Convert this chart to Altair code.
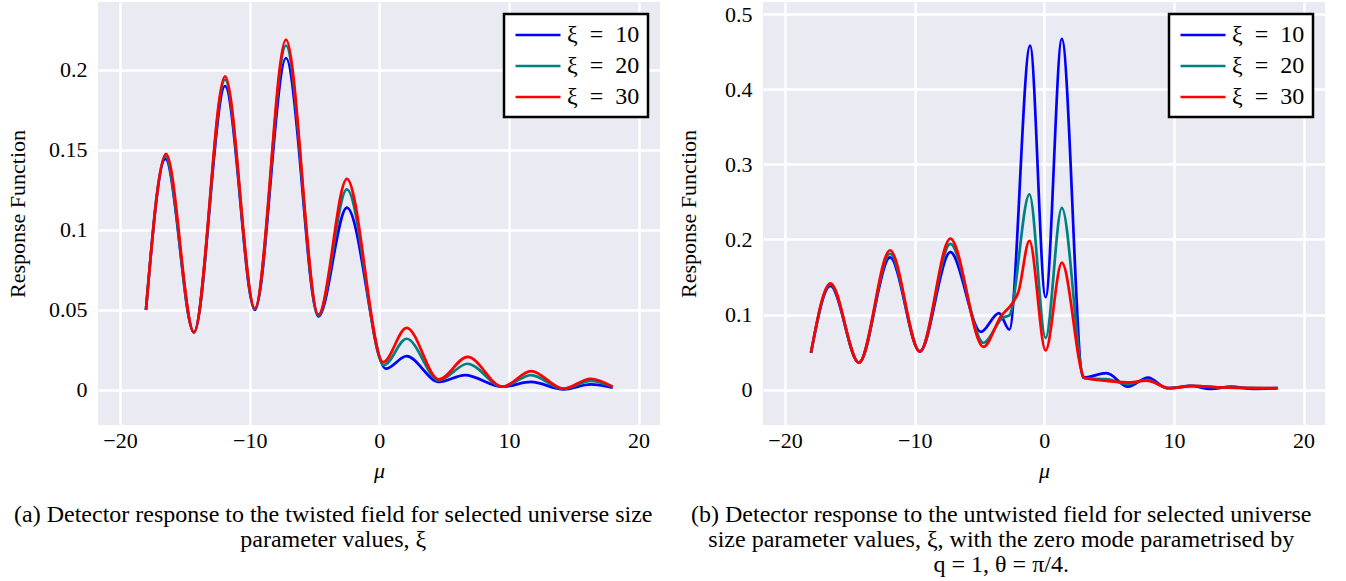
import altair as alt
import pandas as pd

SERIES = ["ξ\u2002=\u200210", "ξ\u2002=\u200220", "ξ\u2002=\u200230"]
COLORS = ["#0000ff", "#008080", "#ff0000"]

# ---- Panel (a): twisted field ----
a_mu_10 = [-18.0, -16.5, -14.3, -11.9, -9.6, -7.2, -4.7, -2.5, 0.5, 2.1, 4.6, 6.6, 9.5, 11.7, 14.2, 16.3, 18.0]
a_r_10 = [0.050, 0.1445, 0.036, 0.190, 0.050, 0.2075, 0.046, 0.114, 0.0133, 0.0211, 0.005, 0.0093, 0.002, 0.005, 0.0004, 0.0035, 0.0015]
a_mu_20 = [-18.0, -16.5, -14.3, -11.9, -9.6, -7.2, -4.7, -2.5, 0.35, 2.1, 4.6, 6.8, 9.5, 11.7, 14.2, 16.3, 18.0]
a_r_20 = [0.050, 0.146, 0.036, 0.194, 0.0505, 0.2153, 0.0465, 0.1254, 0.0155, 0.032, 0.006, 0.0164, 0.002, 0.0093, 0.0006, 0.0056, 0.002]
a_mu_30 = [-18.0, -16.45, -14.3, -11.9, -9.6, -7.2, -4.7, -2.5, 0.3, 2.1, 4.6, 6.8, 9.5, 11.7, 14.2, 16.3, 18.0]
a_r_30 = [0.050, 0.1476, 0.036, 0.196, 0.051, 0.219, 0.047, 0.132, 0.0174, 0.0388, 0.0066, 0.0207, 0.002, 0.0118, 0.0008, 0.007, 0.002]

# ---- Panel (b): untwisted field ----
b_mu_10 = [-18.0, -16.5, -14.3, -11.9, -9.6, -7.25, -4.9, -3.5, -2.7, -1.1, 0.1, 1.35, 3.0, 4.8, 6.45, 8.0, 9.5, 11.3, 12.8, 14.4, 16.2, 18.0]
b_r_10 = [0.049, 0.138, 0.036, 0.176, 0.051, 0.183, 0.077, 0.102, 0.080, 0.458, 0.123, 0.467, 0.016, 0.022, 0.004, 0.016, 0.002, 0.005, 0.001, 0.004, 0.001, 0.002]
b_mu_20 = [-18.0, -16.5, -14.3, -11.9, -9.6, -7.25, -4.7, -3.2, -2.7, -1.15, 0.1, 1.35, 3.1, 4.8, 6.4, 7.9, 9.6, 11.4, 13.5, 18.0]
b_r_20 = [0.049, 0.140, 0.036, 0.181, 0.051, 0.194, 0.0625, 0.096, 0.099, 0.260, 0.069, 0.242, 0.015, 0.014, 0.0075, 0.013, 0.002, 0.005, 0.003, 0.002]
b_mu_30 = [-18.0, -16.5, -14.3, -11.9, -9.6, -7.25, -4.7, -3.3, -2.6, -2.0, -1.15, 0.1, 1.35, 3.1, 4.6, 6.4, 7.9, 9.7, 11.5, 13.5, 18.0]
b_r_30 = [0.049, 0.1416, 0.036, 0.1856, 0.0506, 0.201, 0.057, 0.099, 0.112, 0.130, 0.198, 0.0523, 0.169, 0.016, 0.012, 0.0097, 0.012, 0.002, 0.005, 0.003, 0.002]

X_TICKS = [-20, -10, 0, 10, 20]
A_Y_TICKS = [0, 0.05, 0.1, 0.15, 0.2]
B_Y_TICKS = [0, 0.1, 0.2, 0.3, 0.4, 0.5]

CAPTION_A = ["(a) Detector response to the twisted field for selected universe size",
             "parameter values, ξ"]
CAPTION_B = ["(b) Detector response to the untwisted field for selected universe",
             "size parameter values, ξ, with the zero mode parametrised by",
             "q = 1, θ = π/4."]

FONT = "Liberation Serif"
X_DOMAIN = [-21.7, 21.65]


def make_df(mus, vals):
    rows = []
    for s, m, v in zip(SERIES, mus, vals):
        for x, y in zip(m, v):
            rows.append({"mu": x, "r": y, "series": s})
    return pd.DataFrame(rows)


def panel(mus, vals, ydom, yticks, caption, title_pad):
    df = make_df(mus, vals)
    return alt.Chart(df).mark_line(interpolate="monotone", strokeWidth=2.7).encode(
        x=alt.X("mu:Q",
                scale=alt.Scale(domain=X_DOMAIN, nice=False, zero=False),
                axis=alt.Axis(values=X_TICKS, title="μ", titleFontStyle="italic",
                              labelPadding=5, titlePadding=9, format="d")),
        y=alt.Y("r:Q",
                scale=alt.Scale(domain=ydom, nice=False, zero=False),
                axis=alt.Axis(values=yticks, title="Response Function", format="~g",
                              labelPadding=11, titlePadding=title_pad)),
        color=alt.Color("series:N",
                        scale=alt.Scale(domain=SERIES, range=COLORS),
                        legend=alt.Legend(title=None, orient="top-right", offset=12)),
    ).properties(
        width=562, height=423,
        title=alt.TitleParams(text=caption, orient="bottom", anchor="middle", frame="bounds",
                              font=FONT, fontSize=24, fontWeight="normal", color="black",
                              lineHeight=25, offset=22),
    )


chart_a = panel([a_mu_10, a_mu_20, a_mu_30], [a_r_10, a_r_20, a_r_30],
                [-0.0219, 0.2425], A_Y_TICKS, CAPTION_A, 19)
chart_b = panel([b_mu_10, b_mu_20, b_mu_30], [b_r_10, b_r_20, b_r_30],
                [-0.047, 0.516], B_Y_TICKS, CAPTION_B, 24)

chart = alt.hconcat(chart_a, chart_b, spacing=17).resolve_legend(
    color="independent"
).configure(
    padding={"left": 6, "top": 2, "right": 0, "bottom": 0},
    background="white",
).configure_view(
    fill="#EAEAF2", stroke=None,
).configure_axis(
    domain=False, ticks=False, grid=True, gridColor="white", gridWidth=2.5,
    labelFont=FONT, labelFontSize=22, labelColor="black",
    titleFont=FONT, titleFontSize=22, titleFontWeight="normal", titleColor="black",
).configure_legend(
    strokeColor="black", strokeWidth=2.5, fillColor="white", cornerRadius=0,
    padding=8, labelFont=FONT, labelFontSize=24, labelColor="black",
    symbolType="M-2,0H2", symbolSize=506, symbolStrokeWidth=2.7,
    symbolOffset=13, labelOffset=16, rowPadding=6,
)

chart.save("out.html", embed_options={"renderer": "svg", "actions": False})
